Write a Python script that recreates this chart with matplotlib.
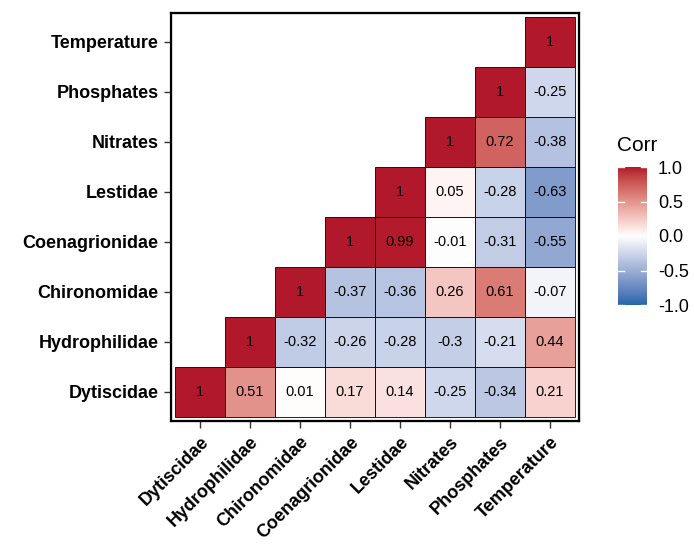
import numpy as np
import matplotlib
matplotlib.use("Agg")
import matplotlib.pyplot as plt
import matplotlib.colors as mcolors
from matplotlib.patches import Rectangle

plt.rcParams["font.family"] = ["Liberation Sans", "DejaVu Sans"]

# variables, bottom row first
variables = ["Dytiscidae", "Hydrophilidae", "Chironomidae", "Coenagrionidae",
             "Lestidae", "Nitrates", "Phosphates", "Temperature"]

# upper part of the correlation matrix, one list per row (starting at the diagonal)
row_dytiscidae = [1, 0.51, 0.01, 0.17, 0.14, -0.25, -0.34, 0.21]
row_hydrophilidae = [1, -0.32, -0.26, -0.28, -0.3, -0.21, 0.44]
row_chironomidae = [1, -0.37, -0.36, 0.26, 0.61, -0.07]
row_coenagrionidae = [1, 0.99, -0.01, -0.31, -0.55]
row_lestidae = [1, 0.05, -0.28, -0.63]
row_nitrates = [1, 0.72, -0.38]
row_phosphates = [1, -0.25]
row_temperature = [1]

rows = [row_dytiscidae, row_hydrophilidae, row_chironomidae, row_coenagrionidae,
        row_lestidae, row_nitrates, row_phosphates, row_temperature]


# gradient built in CIELAB space so the in-between colours stay soft
def srgb_to_lab(rgb):
    rgb = np.asarray(rgb, float)
    lin = np.where(rgb <= 0.04045, rgb / 12.92, ((rgb + 0.055) / 1.055) ** 2.4)
    m = np.array([[0.4124, 0.3576, 0.1805],
                  [0.2126, 0.7152, 0.0722],
                  [0.0193, 0.1192, 0.9505]])
    xyz = m @ lin / np.array([0.95047, 1.0, 1.08883])
    f = np.where(xyz > 0.008856, np.cbrt(xyz), 7.787 * xyz + 16 / 116)
    return np.array([116 * f[1] - 16, 500 * (f[0] - f[1]), 200 * (f[1] - f[2])])


def lab_to_srgb(lab):
    L, a, b = lab
    fy = (L + 16) / 116
    fx = fy + a / 500
    fz = fy - b / 200
    f = np.array([fx, fy, fz])
    xyz = np.where(f ** 3 > 0.008856, f ** 3, (f - 16 / 116) / 7.787)
    xyz = xyz * np.array([0.95047, 1.0, 1.08883])
    m = np.array([[3.2406, -1.5372, -0.4986],
                  [-0.9689, 1.8758, 0.0415],
                  [0.0557, -0.2040, 1.0570]])
    lin = m @ xyz
    rgb = np.where(lin <= 0.0031308, 12.92 * lin, 1.055 * np.clip(lin, 0, None) ** (1 / 2.4) - 0.055)
    return np.clip(rgb, 0, 1)


low, mid, high = "#2166AC", "#FFFFFF", "#B2182B"
lab_low, lab_mid, lab_high = [srgb_to_lab(mcolors.to_rgb(c)) for c in (low, mid, high)]
stops = []
for t in np.linspace(0, 1, 101):
    if t < 0.5:
        s = t / 0.5
        lab = lab_low + (lab_mid - lab_low) * s
    else:
        s = (t - 0.5) / 0.5
        lab = lab_mid + (lab_high - lab_mid) * s
    stops.append((t, lab_to_srgb(lab)))
cmap = mcolors.LinearSegmentedColormap.from_list("corr", stops)
norm = mcolors.Normalize(vmin=-1, vmax=1)

fig = plt.figure(figsize=(6.94, 5.49), dpi=100)
W, H = 694, 549
ax = fig.add_axes([171 / W, 128 / H, 408 / W, 408 / H])

n = len(variables)
for r, vals in enumerate(rows):
    for k, v in enumerate(vals):
        c = r + k
        ax.add_patch(Rectangle((c - 0.5, r - 0.5), 1, 1, facecolor=cmap(norm(v)),
                               edgecolor="black", linewidth=0.6))
        ax.text(c, r, f"{v:g}", ha="center", va="center", fontsize=10.5, color="black")

pad = 0.08
ax.set_xlim(-0.5 - pad, n - 0.5 + pad)
ax.set_ylim(-0.5 - pad, n - 0.5 + pad)
ax.set_xticks(range(n))
ax.set_yticks(range(n))
ax.set_xticklabels(variables, rotation=45, ha="right", va="top",
                   rotation_mode="anchor", fontsize=13, fontweight="bold")
ax.set_yticklabels(variables, fontsize=13, fontweight="bold")
ax.tick_params(length=5, width=1, color="#333333", pad=4)
for s in ax.spines.values():
    s.set_linewidth(1.6)
    s.set_color("black")
# second outline just outside the panel
ax.add_patch(Rectangle((0, 0), 1, 1, transform=ax.transAxes, fill=False,
                       edgecolor="black", linewidth=0.8, clip_on=False))

# colour bar
cax = fig.add_axes([618 / W, 244 / H, 29 / W, 138 / H])
grad = np.linspace(-1, 1, 256).reshape(-1, 1)
cax.imshow(grad, aspect="auto", cmap=cmap, norm=norm, origin="lower",
           extent=[0, 1, -1, 1])
cbar_ticks = [-1, -0.5, 0, 0.5, 1]
cax.set_yticks(cbar_ticks)
cax.set_yticklabels([f"{t:.1f}" for t in cbar_ticks], fontsize=13)
cax.yaxis.tick_right()
cax.set_xticks([])
cax.tick_params(axis="y", length=0, pad=8)
for t in cbar_ticks:
    cax.plot([0, 0.2], [t, t], color="white", lw=1)
    cax.plot([0.8, 1], [t, t], color="white", lw=1)
cax.set_xlim(0, 1)
cax.set_ylim(-1, 1)
for s in cax.spines.values():
    s.set_visible(False)
fig.text(617 / W, 1 - 146 / H, "Corr", fontsize=15, ha="left", va="center")

fig.savefig("out.png", dpi=100)
